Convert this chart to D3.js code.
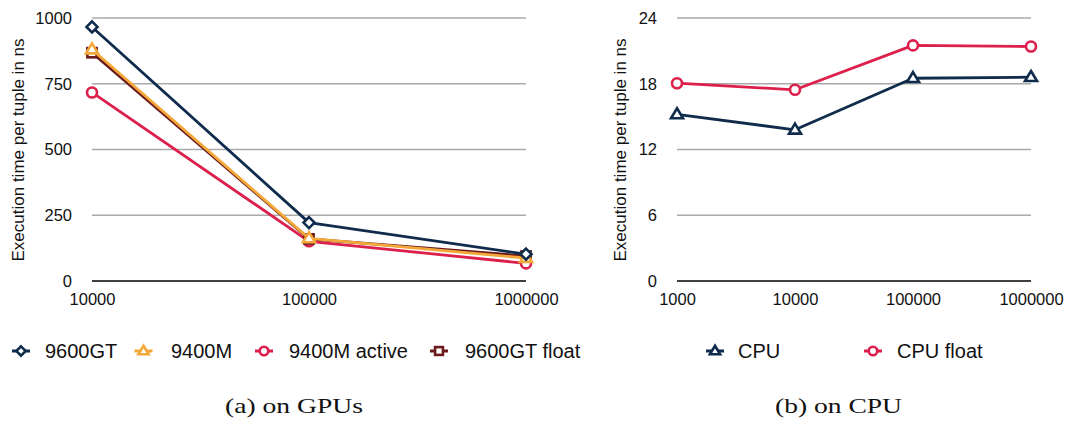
<!DOCTYPE html>
<html>
<head>
<meta charset="utf-8">
<script src="https://cdn.jsdelivr.net/npm/d3@7"></script>
<style>
  html, body { margin: 0; padding: 0; background: #fff; }
  svg { display: block; }
</style>
</head>
<body>
<svg id="chart" width="1072" height="422"></svg>
<script>
// ---- data ----
const gpuSizes = ["10000", "100000", "1000000"];
const gpuTicks = [0, 250, 500, 750, 1000];
const gpu9600GT = [966, 222, 102];
const gpu9400M = [880, 162, 87];
const gpu9400MActive = [717, 151, 67];
const gpu9600GTFloat = [868, 160, 95];

const cpuSizes = ["1000", "10000", "100000", "1000000"];
const cpuTicks = [0, 6, 12, 18, 24];
const cpuInt = [15.2, 13.8, 18.5, 18.6];
const cpuFloat = [18.05, 17.45, 21.5, 21.4];

const yTitle = "Execution time per tuple in ns";

// ---- styling ----
const NAVY = "#0f2c4c", ORANGE = "#f4a83a", RED = "#dc1f4b", BROWN = "#6c1b1c";
const SANS = "'Liberation Sans', Arial, Helvetica, sans-serif";
const SERIF = "'Liberation Serif', 'DejaVu Serif', serif";

const svg = d3.select("#chart");

// marker shapes drawn as hollow outlines
function drawMarker(g, shape, x, y, color, s) {
  s = s || 1;
  let el;
  if (shape === "circle") {
    el = g.append("circle").attr("cx", x).attr("cy", y).attr("r", 5 * s);
  } else if (shape === "square") {
    const h = 4.6 * s;
    el = g.append("rect").attr("x", x - h).attr("y", y - h).attr("width", 2 * h).attr("height", 2 * h);
  } else if (shape === "diamond") {
    const h = 5.5 * s;
    el = g.append("path").attr("d", `M${x},${y - h}L${x + h},${y}L${x},${y + h}L${x - h},${y}Z`);
  } else {
    const w = 6 * s, ht = 10 * s;
    el = g.append("path").attr("d", `M${x},${y - ht * 0.62}L${x + w},${y + ht * 0.38}L${x - w},${y + ht * 0.38}Z`);
  }
  el.attr("fill", "#fff").attr("stroke", color).attr("stroke-width", 2.6);
}

function panel(opts) {
  const g = svg.append("g");
  const x = d3.scalePoint().domain(opts.cats).range([opts.x0, opts.x1]);
  const y = d3.scaleLinear().domain([0, opts.max]).range([281, 18]);

  // horizontal gridlines
  g.append("g").selectAll("line").data(opts.ticks.filter(t => t > 0)).join("line")
    .attr("x1", opts.x0).attr("x2", opts.x1)
    .attr("y1", d => y(d)).attr("y2", d => y(d))
    .attr("stroke", "#aaaaaa").attr("stroke-width", 1.4);

  // baseline
  g.append("line").attr("x1", opts.x0).attr("x2", opts.x1)
    .attr("y1", y(0)).attr("y2", y(0))
    .attr("stroke", "#000").attr("stroke-width", 1.6);

  // y axis labels
  const yAxis = d3.axisLeft(y).tickValues(opts.ticks).tickFormat(d3.format("d"))
    .tickSize(0).tickPadding(0);
  const ya = g.append("g").attr("transform", `translate(${opts.x0 - 20},0)`).call(yAxis);
  ya.select(".domain").remove();
  ya.selectAll("text").attr("font-family", SANS).attr("font-size", 16.5).attr("fill", "#111");

  // x axis labels
  const xAxis = d3.axisBottom(x).tickSize(0).tickPadding(0);
  const xa = g.append("g").attr("transform", `translate(0,${y(0) + 12})`).call(xAxis);
  xa.select(".domain").remove();
  xa.selectAll("text").attr("font-family", SANS).attr("font-size", 16.5).attr("fill", "#111");

  // y title
  g.append("text")
    .attr("transform", `translate(${opts.titleX},150) rotate(-90)`)
    .attr("text-anchor", "middle").attr("dominant-baseline", "central")
    .attr("font-family", SANS).attr("font-size", 17).attr("fill", "#111")
    .text(yTitle);

  // series
  const line = d3.line().x((d, i) => x(opts.cats[i])).y(d => y(d));
  opts.series.forEach(s => {
    g.append("path").attr("d", line(s.values))
      .attr("fill", "none").attr("stroke", s.color).attr("stroke-width", 2.8)
      .attr("stroke-linejoin", "round");
    s.values.forEach((v, i) => drawMarker(g, s.shape, x(opts.cats[i]), y(v), s.color));
  });

  // legend
  opts.legend.forEach(s => {
    const lg = g.append("g");
    lg.append("line").attr("x1", s.mx - 9).attr("x2", s.mx + 9)
      .attr("y1", 351).attr("y2", 351).attr("stroke", s.color).attr("stroke-width", 3);
    drawMarker(lg, s.shape, s.mx, 351, s.color, 0.85);
    lg.append("text").attr("x", s.tx).attr("y", 358)
      .attr("font-family", SANS).attr("font-size", 20).attr("fill", "#111")
      .text(s.name);
  });

  // caption
  g.append("text").attr("x", opts.capX).attr("y", 413)
    .attr("text-anchor", "middle")
    .attr("font-family", SERIF).attr("font-size", 21).attr("fill", "#111")
    .attr("textLength", opts.capW).attr("lengthAdjust", "spacingAndGlyphs")
    .text(opts.caption);
}

const gpuSeries = [
  { name: "9600GT", values: gpu9600GT, color: NAVY, shape: "diamond" },
  { name: "9400M", values: gpu9400M, color: ORANGE, shape: "triangle" },
  { name: "9400M active", values: gpu9400MActive, color: RED, shape: "circle" },
  { name: "9600GT float", values: gpu9600GTFloat, color: BROWN, shape: "square" }
];
const gpuDrawOrder = [gpuSeries[2], gpuSeries[3], gpuSeries[1], gpuSeries[0]];
const gpuLegendPos = [[21, 45], [143.5, 171], [264, 289], [439, 465]];

panel({
  cats: gpuSizes, ticks: gpuTicks, max: 1000,
  x0: 92, x1: 526, titleX: 18,
  series: gpuDrawOrder,
  legend: gpuSeries.map((s, i) => Object.assign({}, s, { mx: gpuLegendPos[i][0], tx: gpuLegendPos[i][1] })),
  caption: "(a) on GPUs", capX: 294, capW: 138
});

const cpuSeries = [
  { name: "CPU", values: cpuInt, color: NAVY, shape: "triangle" },
  { name: "CPU float", values: cpuFloat, color: RED, shape: "circle" }
];
const cpuLegendPos = [[715, 738], [873, 897]];

panel({
  cats: cpuSizes, ticks: cpuTicks, max: 24,
  x0: 677, x1: 1031, titleX: 620,
  series: cpuSeries,
  legend: cpuSeries.map((s, i) => Object.assign({}, s, { mx: cpuLegendPos[i][0], tx: cpuLegendPos[i][1] })),
  caption: "(b) on CPU", capX: 838.5, capW: 127
});
</script>
</body>
</html>
